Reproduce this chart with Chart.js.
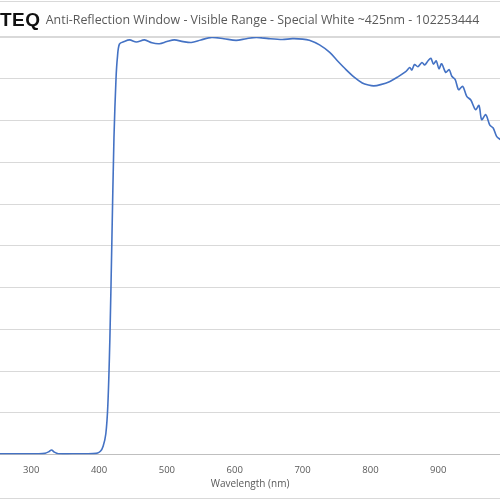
<!DOCTYPE html>
<html>
<head>
<meta charset="utf-8">
<script src="https://cdn.jsdelivr.net/npm/chart.js@4.4.1/dist/chart.umd.min.js"></script>
<style>
  html, body { margin: 0; padding: 0; background: #fff; }
  #wrap { position: relative; width: 500px; height: 500px; overflow: hidden; }
  #topline { position: absolute; left: 0; top: 1px; width: 500px; height: 1px; background: #d9d9d9; }
  #sep { position: absolute; left: 0; top: 36px; width: 500px; height: 1px; background: #d9d9d9; }
  #botline { position: absolute; left: 0; top: 498px; width: 500px; height: 1px; background: #d9d9d9; }
  #title { position: absolute; left: 0; top: 9px; white-space: nowrap; font-family: "Open Sans", "Noto Sans", sans-serif; color: #595959; font-size: 12.4px; }
  #title b { font-family: "Liberation Sans", Arial, sans-serif; font-size: 19px; color: #111; font-weight: 900; letter-spacing: 0.5px; vertical-align: -2px; margin-right: 2px; }
  canvas { position: absolute; left: 0; top: 0; }
</style>
</head>
<body>
<div id="wrap">
  <canvas id="c" width="500" height="500"></canvas>
  <div id="topline"></div>
  <div id="sep"></div>
  <div id="botline"></div>
  <div id="title"><b>TEQ</b> Anti-Reflection Window - Visible Range - Special White ~425nm - 102253444</div>
</div>
<script>
// wavelength (nm) and transmission (%)
const wavelengths = [250, 270, 290, 310, 320, 326, 330, 334, 340, 360, 380, 396, 402, 406, 410, 413, 416, 419, 422, 425, 427, 430, 437, 445, 455, 467, 478, 489, 500, 511, 524, 536, 550, 566, 584, 602, 617, 632, 650, 670, 685, 700, 710, 725, 740, 752, 764, 776, 788, 797, 805, 815, 828, 840, 852, 858, 861, 865, 870, 876, 880, 885, 889, 893, 897, 901, 905, 911, 916, 920, 925, 930, 936, 942, 948, 955, 960, 964, 970, 976, 981, 986, 992];
const transmission = [0.2, 0.2, 0.2, 0.2, 0.3, 0.7, 1.1, 0.6, 0.2, 0.2, 0.2, 0.3, 0.8, 2, 5, 12, 28, 52, 76, 90, 95, 98.3, 98.9, 99.3, 98.8, 99.3, 98.6, 98.4, 98.9, 99.3, 98.9, 98.7, 99.3, 99.9, 99.6, 99.2, 99.6, 99.9, 99.6, 99.4, 99.6, 99.5, 99.2, 98.1, 96.3, 94.2, 92.2, 90.4, 89, 88.5, 88.3, 88.6, 89.3, 90.4, 91.7, 92.7, 92.1, 93.4, 92.9, 93.9, 93.3, 94.3, 94.9, 93.5, 94.3, 92.4, 93.6, 91.5, 92.2, 90.6, 89.8, 87.4, 88.2, 85.8, 84.9, 82.6, 83.6, 80.2, 81.4, 78.9, 78.2, 76.2, 75.4];
const xTicks = [300, 400, 500, 600, 700, 800, 900];

const points = wavelengths.map((w, i) => ({ x: w, y: transmission[i] }));

new Chart(document.getElementById('c'), {
  type: 'line',
  data: {
    datasets: [{
      data: points,
      borderColor: '#4472c4',
      borderWidth: 1.6,
      pointRadius: 0,
      tension: 0.3,
      fill: false
    }]
  },
  options: {
    responsive: false,
    animation: false,
    layout: { padding: { top: 37, left: 0, right: 0, bottom: 10 } },
    plugins: { legend: { display: false }, tooltip: { enabled: false } },
    scales: {
      x: {
        type: 'linear', min: 254, max: 991,
        afterBuildTicks: s => { s.ticks = xTicks.map(v => ({ value: v })); },
        grid: { display: false },
        border: { color: '#bfbfbf', width: 1 },
        ticks: { color: '#595959', font: { family: 'Open Sans', size: 9.5 }, padding: 2, maxRotation: 0 },
        title: { display: true, text: 'Wavelength (nm)', color: '#595959', font: { family: 'Open Sans', size: 10 }, padding: { top: 0, bottom: 0 } }
      },
      y: {
        min: 0, max: 100,
        ticks: { display: false, stepSize: 10 },
        grid: { color: '#d9d9d9', drawTicks: false },
        border: { display: false }
      }
    }
  }
});
</script>
</body>
</html>
